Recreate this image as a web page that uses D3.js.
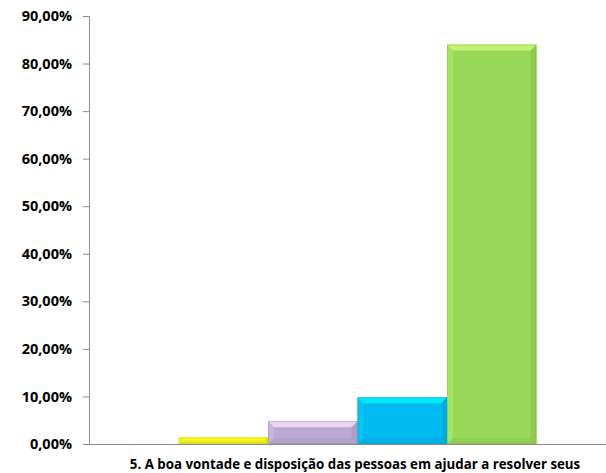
<!DOCTYPE html>
<html lang="pt">
<head>
<meta charset="UTF-8">
<script src="https://d3js.org/d3.v7.min.js"></script>
<title>Gráfico</title>
<style>
  body { margin: 0; background: #fff; }
  text { font-family: "Open Sans", Lato, sans-serif; font-weight: bold; }
</style>
</head>
<body>
<div id="chart"></div>
<script>
  const width = 606;
  const height = 473;
  const padding = { left: 89, right: 0, top: 16, bottom: 29 };

  // dados
  const category = "5. A boa vontade e disposição das pessoas em ajudar a resolver seus";
  const series = ["s0", "s1", "s2", "s3", "s4"];
  const values = [0, 1.4, 4.8, 9.8, 84.0];
  const colors = ["#ffffff", "#f0f01e", "#bba9d3", "#00b9f1", "#9ad85a"];
  const yTicks = [0, 10, 20, 30, 40, 50, 60, 70, 80, 90];

  const svg = d3.select("#chart")
    .append("svg")
    .attr("width", width)
    .attr("height", height);

  const y = d3.scaleLinear()
    .domain([0, 90])
    .range([height - padding.bottom, padding.top]);

  const barW = 89.5;
  const x = d3.scaleBand()
    .domain(series)
    .range([padding.left, padding.left + barW * series.length])
    .padding(0);

  // eixo y
  const yAxis = d3.axisLeft(y)
    .tickValues(yTicks)
    .tickSize(6)
    .tickFormat(d => d3.format(".2f")(d).replace(".", ",") + "%");

  const gy = svg.append("g")
    .attr("transform", `translate(${padding.left},0)`)
    .call(yAxis);
  gy.select(".domain").attr("stroke", "#8c8c8c");
  gy.selectAll(".tick line").attr("stroke", "#8c8c8c");
  gy.selectAll(".tick text")
    .attr("x", -17)
    .attr("font-size", 14.5)
    .attr("font-family", "'Open Sans', sans-serif")
    .attr("font-weight", "bold")
    .attr("fill", "#000");

  // barras com bisel
  const bev = 6;
  const bars = svg.append("g");
  series.forEach((s, i) => {
    if (values[i] <= 0) return;
    const x0 = x(s), x1 = x(s) + x.bandwidth();
    const y0 = y(values[i]), y1 = y(0);
    const c = d3.color(colors[i]);
    const g = bars.append("g");
    g.append("rect")
      .attr("x", x0).attr("y", y0)
      .attr("width", x1 - x0).attr("height", y1 - y0)
      .attr("fill", c);
    const b = Math.min(bev, (y1 - y0) / 2);
    const light = c.brighter(0.5);
    const lighter = c.brighter(0.9);
    const dark = c.darker(0.4);
    // topo
    g.append("path")
      .attr("d", `M${x0},${y0}L${x1},${y0}L${x1 - b},${y0 + b}L${x0 + b},${y0 + b}Z`)
      .attr("fill", lighter).attr("opacity", 0.7);
    // esquerda
    g.append("path")
      .attr("d", `M${x0},${y0}L${x0 + b},${y0 + b}L${x0 + b},${y1 - b}L${x0},${y1}Z`)
      .attr("fill", light).attr("opacity", 0.35);
    // direita
    g.append("path")
      .attr("d", `M${x1},${y0}L${x1},${y1}L${x1 - b},${y1 - b}L${x1 - b},${y0 + b}Z`)
      .attr("fill", dark).attr("opacity", 0.45);
    // base
    g.append("path")
      .attr("d", `M${x0},${y1}L${x1},${y1}L${x1 - b},${y1 - b}L${x0 + b},${y1 - b}Z`)
      .attr("fill", dark).attr("opacity", 0.35);
    g.append("rect")
      .attr("x", x0 + 0.5).attr("y", y0 + 0.5)
      .attr("width", x1 - x0 - 1).attr("height", y1 - y0 - 1)
      .attr("fill", "none")
      .attr("stroke", c.darker(0.6))
      .attr("stroke-opacity", 0.4);
  });

  // eixo x
  svg.append("line")
    .attr("x1", padding.left)
    .attr("x2", width)
    .attr("y1", y(0) + 0.5)
    .attr("y2", y(0) + 0.5)
    .attr("stroke", "#8c8c8c");

  svg.append("text")
    .attr("x", 355)
    .attr("y", height - 4)
    .attr("text-anchor", "middle")
    .attr("font-size", 13.3)
    .text(category);
</script>
</body>
</html>
